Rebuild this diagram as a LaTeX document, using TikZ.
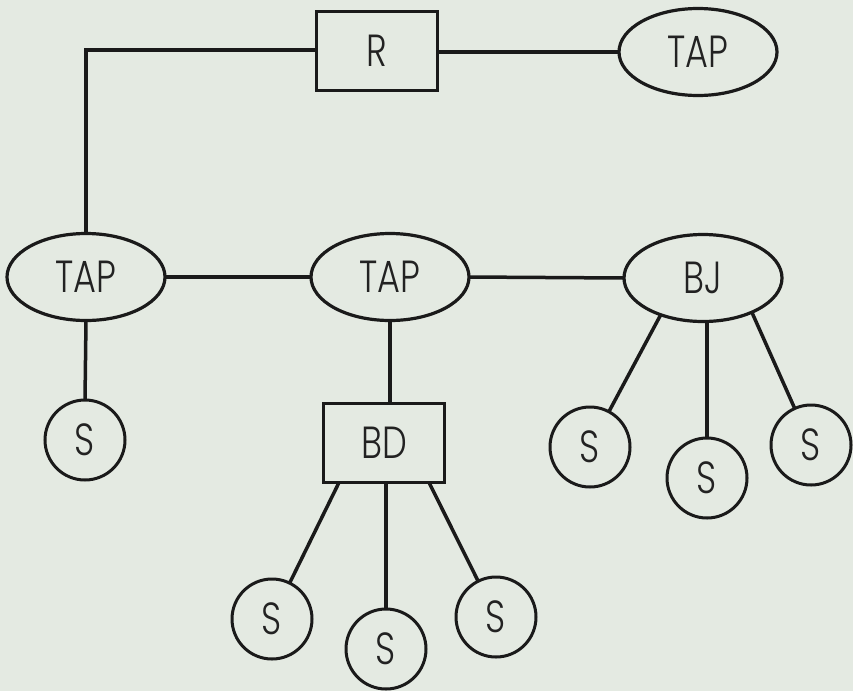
\documentclass[tikz,border=0pt]{standalone}
\usepackage{fontspec}
\IfFontExistsTF{Poppins Light}
  {\setmainfont{Poppins Light}[FakeStretch=0.78]}
  {\setmainfont{Poppins}[FakeStretch=0.78]}
\usetikzlibrary{shapes.geometric}

\definecolor{paper}{HTML}{E4EAE2}
\definecolor{ink}{HTML}{1A1A1A}
\definecolor{type}{HTML}{222222}

\tikzset{
  base/.style={draw=ink, text=type, inner sep=0pt, outer sep=0pt,
               font=\fontsize{45}{45}\selectfont},
  process/.style={base, ellipse, line width=3.2pt,
                  minimum width=158pt, minimum height=87pt},
  station/.style={base, circle, line width=3pt, minimum size=80pt},
  unit/.style={base, rectangle, line width=3.8pt,
               minimum width=121pt, minimum height=79pt},
  link/.style={draw=ink, line width=3.5pt}
}

\begin{document}
\begin{tikzpicture}[x=1pt, y=-1pt]
  % page
  \fill[paper] (0,0) rectangle (853,691);
  \useasboundingbox (0,0) rectangle (853,691);

  % top row
  \node[unit]    (R)    at (377,51)  {R};
  \node[process] (TAPa) at (698,52)  {TAP};
  \coordinate    (bend) at (86,50);

  % middle row
  \node[process] (TAPl) at (86,277)  {TAP};
  \node[process] (TAPm) at (390,277) {TAP};
  \node[process] (BJ)   at (703,278) {BJ};

  % lower row
  \node[station] (Sl)   at (85,440)  {S};
  \node[unit]    (BD)   at (384,443) {BD};
  \node[station] (Sj1)  at (590,447) {S};
  \node[station] (Sj2)  at (707,478) {S};
  \node[station] (Sj3)  at (811,445) {S};

  % stations under BD
  \node[station] (Sd1)  at (272,619) {S};
  \node[station] (Sd2)  at (386,649) {S};
  \node[station] (Sd3)  at (496,617) {S};

  % connectors
  \draw[link] (R.east |- TAPa.west) -- (TAPa.west);
  \draw[link] (R.west |- bend) -- (bend) -- (TAPl.north);
  \draw[link] (TAPl.east) -- (TAPm.west);
  \draw[link] (TAPm.east) -- (BJ.west);
  \draw[link] (TAPl.south) -- (Sl.north);
  \draw[link] (TAPm.south) -- (TAPm.south |- BD.north);
  \draw[link] (BJ.221) -- (Sj1);
  \draw[link] (Sj2.north |- BJ.south) -- (Sj2.north);
  \draw[link] (BJ.325) -- (Sj3);
  \draw[link] ([xshift=-45pt]BD.south) -- (Sd1);
  \draw[link] (Sd2.north |- BD.south) -- (Sd2.north);
  \draw[link] ([xshift=45pt]BD.south) -- (Sd3);
\end{tikzpicture}
\end{document}
